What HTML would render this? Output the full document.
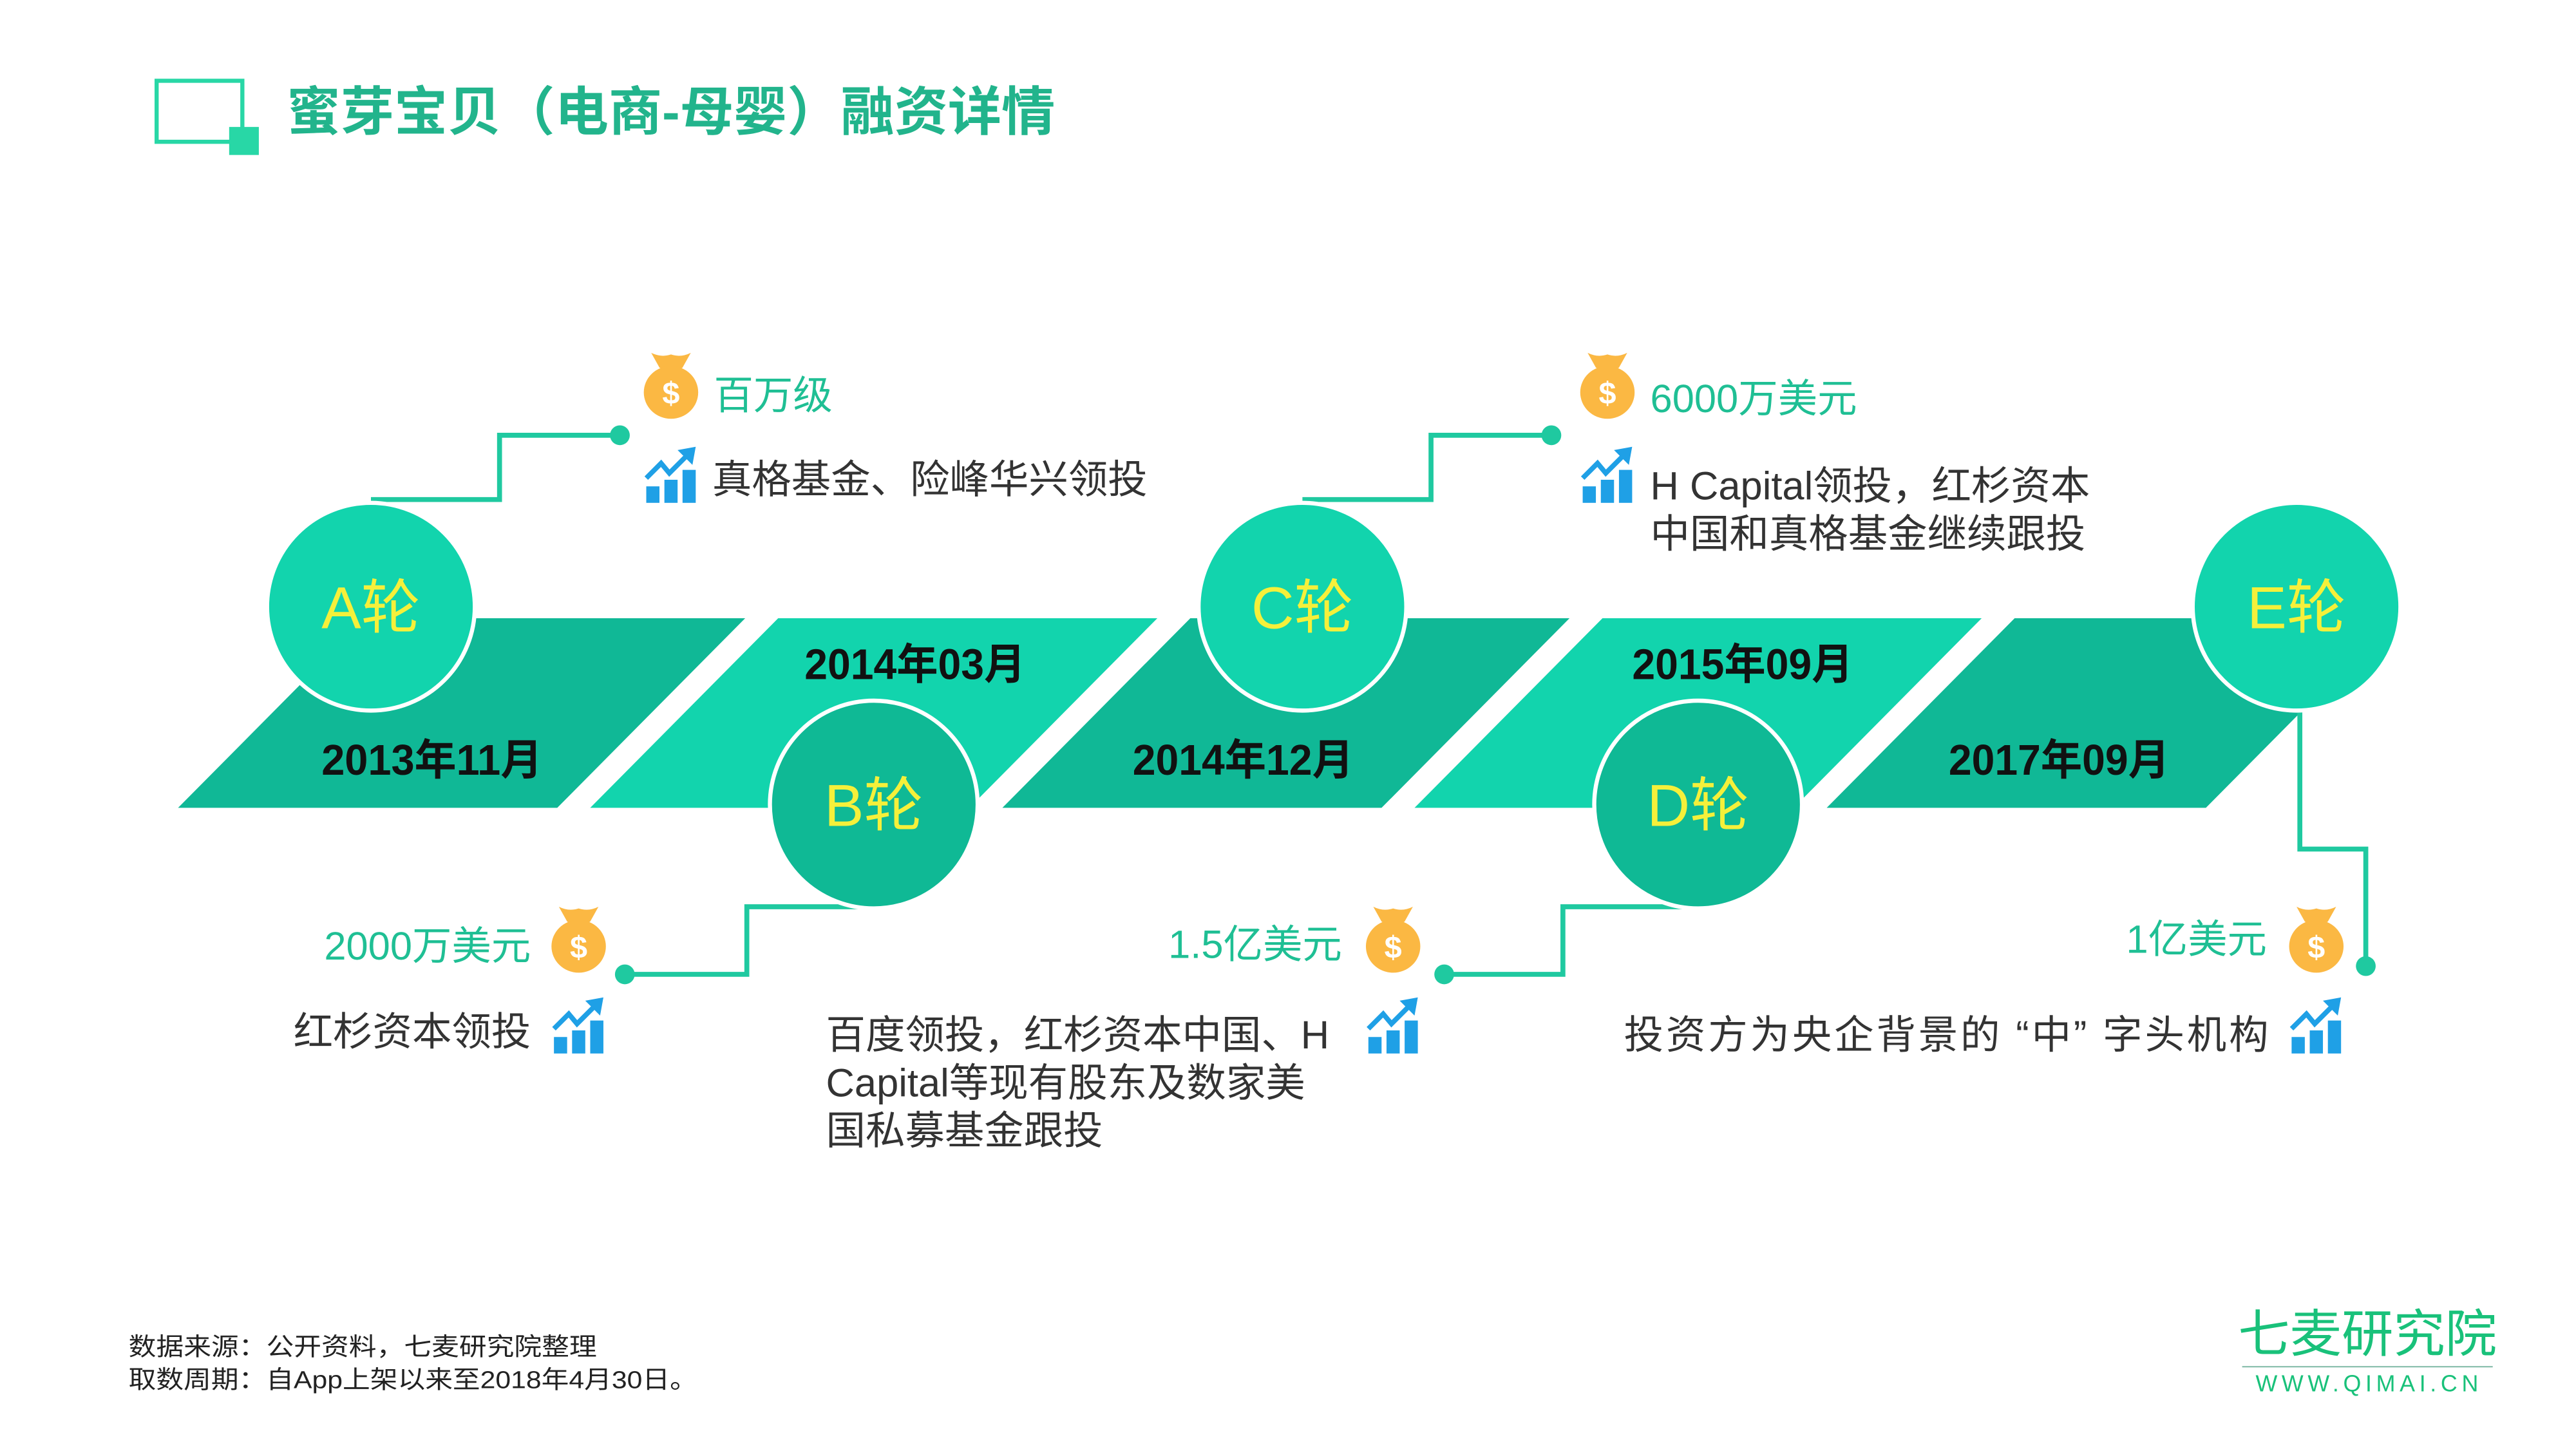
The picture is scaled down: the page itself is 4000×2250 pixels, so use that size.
<!DOCTYPE html>
<html><head><meta charset="utf-8"><style>
html,body{margin:0;padding:0;background:#fff;}
svg{display:block;}
text{font-family:"Liberation Sans","Noto Sans CJK SC",sans-serif;}
</style></head><body>
<svg xmlns="http://www.w3.org/2000/svg" width="4000" height="2250" viewBox="0 0 1562.5 878.9">
<defs>
<g id="bag">
<path d="M-12,-20 Q-6,-17 0,-19 Q6,-17 12,-20 L7,-11 Q4,-9 0,-9 Q-4,-9 -7,-11 Z" fill="#fbb843"/>
<ellipse cx="0" cy="4" rx="16.5" ry="16" fill="#fbb843"/>
<text x="0" y="11" text-anchor="middle" font-size="19" font-weight="bold" fill="#fff">$</text>
</g>
<g id="chart" fill="#1fa0e6">
<rect x="-15" y="7" width="8" height="10"/>
<rect x="-4" y="3" width="8" height="14"/>
<rect x="7" y="-3" width="8" height="20"/>
<polyline points="-15,2 -6,-7 -1,-1 10,-12" fill="none" stroke="#1fa0e6" stroke-width="3"/>
<polygon points="15,-17 4,-15 13,-6"/>
</g>
</defs>
<!-- title -->
<rect x="95" y="49" width="52" height="37" fill="none" stroke="#28d7a6" stroke-width="2.5"/>
<rect x="139" y="77" width="18" height="17" fill="#28d7a6"/>
<text x="174" y="79" font-size="32" font-weight="bold" fill="#22b48c" textLength="466" lengthAdjust="spacingAndGlyphs">蜜芽宝贝（电商-母婴）融资详情</text>

<!-- band -->
<polygon points="222,375 452,375 338,490 108,490" fill="#10b896"/>
<polygon points="472,375 702,375 588,490 358,490" fill="#12d4ad"/>
<polygon points="722,375 952,375 838,490 608,490" fill="#10b896"/>
<polygon points="972,375 1202,375 1088,490 858,490" fill="#12d4ad"/>
<polygon points="1222,375 1452,375 1338,490 1108,490" fill="#10b896"/>

<g font-size="26" fill="#111" text-anchor="middle" font-weight="bold">
<text x="262" y="470" textLength="134" lengthAdjust="spacingAndGlyphs">2013年11月</text>
<text x="555" y="412" textLength="134" lengthAdjust="spacingAndGlyphs">2014年03月</text>
<text x="754" y="470" textLength="134" lengthAdjust="spacingAndGlyphs">2014年12月</text>
<text x="1057" y="412" textLength="134" lengthAdjust="spacingAndGlyphs">2015年09月</text>
<text x="1249" y="470" textLength="134" lengthAdjust="spacingAndGlyphs">2017年09月</text>
</g>

<!-- connectors -->
<g fill="none" stroke="#1fc9a0" stroke-width="3">
<polyline points="225,303 303,303 303,264 376,264"/>
<polyline points="790,303 868,303 868,264 941,264"/>
<polyline points="530,550 453,550 453,591 379,591"/>
<polyline points="1030,550 948,550 948,591 876,591"/>
<polyline points="1395,432 1395,515 1435,515 1435,586"/>
</g>
<g fill="#1fc9a0">
<circle cx="376" cy="264" r="6"/><circle cx="941" cy="264" r="6"/>
<circle cx="379" cy="591" r="6"/><circle cx="876" cy="591" r="6"/>
<circle cx="1435" cy="586" r="6"/>
</g>

<!-- circles -->
<g stroke="#fff" stroke-width="2.5">
<circle cx="225" cy="368" r="63" fill="#12d4ad"/>
<circle cx="530" cy="488" r="63" fill="#0fb995"/>
<circle cx="790" cy="368" r="63" fill="#12d4ad"/>
<circle cx="1030" cy="488" r="63" fill="#0fb995"/>
<circle cx="1393" cy="368" r="63" fill="#12d4ad"/>
</g>
<g font-size="36" fill="#f5f03a" text-anchor="middle">
<text x="225" y="381">A轮</text>
<text x="530" y="501">B轮</text>
<text x="790" y="381">C轮</text>
<text x="1030" y="501">D轮</text>
<text x="1393" y="381">E轮</text>
</g>

<!-- icons -->
<use href="#bag" x="407" y="234"/>
<use href="#chart" x="407" y="288"/>
<use href="#bag" x="975" y="234"/>
<use href="#chart" x="975" y="288"/>
<use href="#bag" x="351" y="570"/>
<use href="#chart" x="351" y="622"/>
<use href="#bag" x="845" y="570"/>
<use href="#chart" x="845" y="622"/>
<use href="#bag" x="1405" y="570"/>
<use href="#chart" x="1405" y="622"/>

<!-- texts -->
<g font-size="24">
<text x="433" y="248" fill="#1fbf94">百万级</text>
<text x="432" y="299" fill="#333">真格基金、险峰华兴领投</text>
<text x="1001" y="250" fill="#1fbf94">6000万美元</text>
<text x="1001" y="303" fill="#333">H Capital领投，红杉资本</text>
<text x="1001" y="332" fill="#333">中国和真格基金继续跟投</text>
<text x="322" y="582" fill="#1fbf94" text-anchor="end">2000万美元</text>
<text x="322" y="634" fill="#333" text-anchor="end">红杉资本领投</text>
<text x="814" y="581" fill="#1fbf94" text-anchor="end">1.5亿美元</text>
<text x="501" y="636" fill="#333">百度领投，红杉资本中国、H</text>
<text x="501" y="665" fill="#333">Capital等现有股东及数家美</text>
<text x="501" y="694" fill="#333">国私募基金跟投</text>
<text x="1375" y="578" fill="#1fbf94" text-anchor="end">1亿美元</text>
<text x="985" y="636" fill="#333" textLength="391" lengthAdjust="spacing">投资方为央企背景的 “中” 字头机构</text>
</g>

<!-- footer -->
<g font-size="15" fill="#222">
<text x="78" y="822" textLength="284" lengthAdjust="spacingAndGlyphs">数据来源：公开资料，七麦研究院整理</text>
<text x="78" y="842" textLength="345" lengthAdjust="spacingAndGlyphs">取数周期：自App上架以来至2018年4月30日。</text>
</g>
<text x="1436" y="820" font-size="31" fill="#19c17a" text-anchor="middle" textLength="157" lengthAdjust="spacingAndGlyphs">七麦研究院</text>
<line x1="1360" y1="829" x2="1512" y2="829" stroke="#7fb8a6" stroke-width="0.8"/>
<text x="1437" y="844" font-size="14" fill="#19c17a" text-anchor="middle" letter-spacing="2.6">WWW.QIMAI.CN</text>
</svg>
</body></html>
